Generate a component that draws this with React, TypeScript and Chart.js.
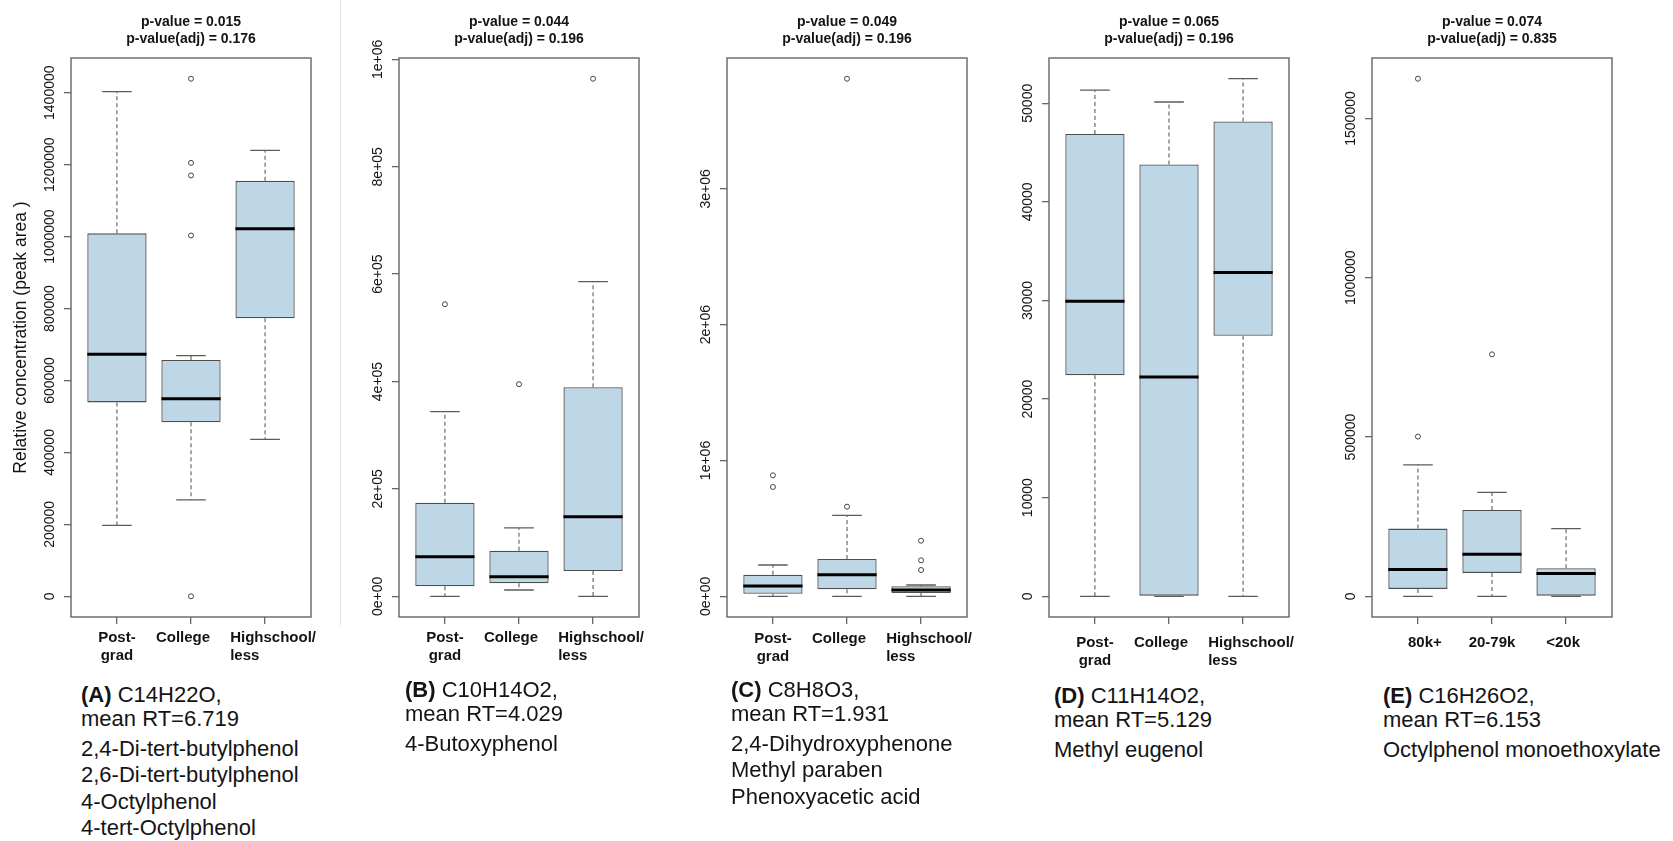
import React, { useEffect, useRef } from "react";
import { Chart, registerables } from "chart.js";

Chart.register(...registerables);

const FONT = '"Liberation Sans", Arial, Helvetica, sans-serif';
Chart.defaults.font.family = FONT;

// ---------------- DATA ----------------
const eduCategories = [["Post-", "grad"], ["College"], ["Highschool/", "less"]];
const incomeCategories = [["80k+"], ["20-79k"], ["<20k"]];

const pValues = ["0.015", "0.044", "0.049", "0.065", "0.074"];
const pAdjValues = ["0.176", "0.196", "0.196", "0.196", "0.835"];

// Panel A: C14H22O
const aLow = [197000, 268000, 436000];
const aQ1 = [539000, 484000, 773000];
const aMedian = [673000, 549000, 1022000];
const aQ3 = [1009000, 657000, 1155000];
const aHigh = [1403000, 669000, 1240000];
const aOutliers = [[], [1439000, 1205000, 1170000, 1003000, 0], []];
const aTicks = [0, 200000, 400000, 600000, 800000, 1000000, 1200000, 1400000];
const aTickLabels = ["0", "200000", "400000", "600000", "800000", "1000000", "1200000", "1400000"];

// Panel B: C10H14O2
const bLow = [0, 11700, 0];
const bQ1 = [18600, 24200, 47100];
const bMedian = [73800, 36500, 148300];
const bQ3 = [174400, 85000, 389400];
const bHigh = [344000, 127300, 586200];
const bOutliers = [[544000], [395000], [964000]];
const bTicks = [0, 200000, 400000, 600000, 800000, 1000000];
const bTickLabels = ["0e+00", "2e+05", "4e+05", "6e+05", "8e+05", "1e+06"];

// Panel C: C8H8O3
const cLow = [0, 0, 0];
const cQ1 = [19100, 51500, 24300];
const cMedian = [75900, 159000, 46400];
const cQ3 = [159000, 274700, 73600];
const cHigh = [230500, 596500, 83200];
const cOutliers = [[891000, 805000], [3811500, 660000], [409500, 265100, 193700]];
const cTicks = [0, 1000000, 2000000, 3000000];
const cTickLabels = ["0e+00", "1e+06", "2e+06", "3e+06"];

// Panel D: C11H14O2
const dLow = [0, 0, 0];
const dQ1 = [22420, 0, 26410];
const dMedian = [29930, 22250, 32840];
const dQ3 = [46880, 43800, 48160];
const dHigh = [51340, 50130, 52490];
const dOutliers = [[], [], []];
const dTicks = [0, 10000, 20000, 30000, 40000, 50000];
const dTickLabels = ["0", "10000", "20000", "30000", "40000", "50000"];

// Panel E: C16H26O2
const eLow = [0, 0, 0];
const eQ1 = [23200, 73400, 0];
const eMedian = [83800, 131800, 71200];
const eQ3 = [212500, 271200, 87900];
const eHigh = [412400, 326400, 212500];
const eOutliers = [[1624900, 501300], [759600], []];
const eTicks = [0, 500000, 1000000, 1500000];
const eTickLabels = ["0", "500000", "1000000", "1500000"];

const yAxisTitle = "Relative concentration (peak area )";

const captionLetters = ["(A)", "(B)", "(C)", "(D)", "(E)"];
const captionFormulas = ["C14H22O,", "C10H14O2,", "C8H8O3,", "C11H14O2,", "C16H26O2,"];
const captionRT = ["mean RT=6.719", "mean RT=4.029", "mean RT=1.931", "mean RT=5.129", "mean RT=6.153"];
const captionNames = [
  ["2,4-Di-tert-butylphenol", "2,6-Di-tert-butylphenol", "4-Octylphenol", "4-tert-Octylphenol"],
  ["4-Butoxyphenol"],
  ["2,4-Dihydroxyphenone", "Methyl paraben", "Phenoxyacetic acid"],
  ["Methyl eugenol"],
  ["Octylphenol monoethoxylate"],
];

// ---------------- LAYOUT / STYLE ----------------
const CANVAS_H = 680;
const PLOT_TOP = 58;
const PLOT_BOTTOM = 617;
const PLOT_W = 240;
const RIGHT_PAD = 14;
const PLOT_LEFT = [71, 399, 727, 1049, 1372];
const AXIS_W = [71, 40, 40, 40, 40];
const X_LABEL_DY = [21, 21, 22, 26, 26];
const EDU_SHIFT = [0, -8, 8];
const INC_SHIFT = [7, 0, -3];
const EDU_ALIGN = ["center", "center", "left"];
const INC_ALIGN = ["center", "center", "center"];
const CAP_LEFT = [81, 405, 731, 1054, 1383];
const CAP_TOP = [683, 678, 678, 684, 684];

const BOX_FILL = "#BED7E6";
const BOX_BORDER = "#4f4f4f";
const LINE_GRAY = "#5c5c5c";
const FRAME = "#666666";
const TEXT = "#141414";

type PanelData = {
  categories: string[][];
  low: number[];
  q1: number[];
  med: number[];
  q3: number[];
  high: number[];
  outliers: number[][];
  ticks: number[];
  tickLabels: string[];
  shift: number[];
  align: string[];
};

const panels: PanelData[] = [
  { categories: eduCategories, low: aLow, q1: aQ1, med: aMedian, q3: aQ3, high: aHigh, outliers: aOutliers, ticks: aTicks, tickLabels: aTickLabels, shift: EDU_SHIFT, align: EDU_ALIGN },
  { categories: eduCategories, low: bLow, q1: bQ1, med: bMedian, q3: bQ3, high: bHigh, outliers: bOutliers, ticks: bTicks, tickLabels: bTickLabels, shift: EDU_SHIFT, align: EDU_ALIGN },
  { categories: eduCategories, low: cLow, q1: cQ1, med: cMedian, q3: cQ3, high: cHigh, outliers: cOutliers, ticks: cTicks, tickLabels: cTickLabels, shift: EDU_SHIFT, align: EDU_ALIGN },
  { categories: eduCategories, low: dLow, q1: dQ1, med: dMedian, q3: dQ3, high: dHigh, outliers: dOutliers, ticks: dTicks, tickLabels: dTickLabels, shift: EDU_SHIFT, align: EDU_ALIGN },
  { categories: incomeCategories, low: eLow, q1: eQ1, med: eMedian, q3: eQ3, high: eHigh, outliers: eOutliers, ticks: eTicks, tickLabels: eTickLabels, shift: INC_SHIFT, align: INC_ALIGN },
];

function makeAxesPlugin(p: PanelData, li: number) {
  return {
    id: "rAxes" + li,
    afterDraw(chart: any) {
      const { ctx, chartArea: ca, scales } = chart;
      ctx.save();
      ctx.strokeStyle = FRAME;
      ctx.lineWidth = 1.4;
      ctx.strokeRect(ca.left, ca.top, ca.right - ca.left, ca.bottom - ca.top);

      ctx.fillStyle = TEXT;
      ctx.font = `14px ${FONT}`;
      ctx.textAlign = "center";
      ctx.textBaseline = "middle";
      scales.y.ticks.forEach((t: any, i: number) => {
        const py = scales.y.getPixelForValue(t.value);
        ctx.save();
        ctx.translate(ca.left - 21, py);
        ctx.rotate(-Math.PI / 2);
        ctx.fillText(p.tickLabels[i], 0, 0);
        ctx.restore();
      });

      ctx.font = `bold 15px ${FONT}`;
      ctx.textAlign = "left";
      scales.x.ticks.forEach((t: any, i: number) => {
        const lines = p.categories[i];
        const cx = scales.x.getPixelForValue(t.value) + p.shift[i];
        const widths = lines.map((l) => ctx.measureText(l).width);
        const maxW = Math.max(...widths);
        lines.forEach((l, j) => {
          const lx = p.align[i] === "center" ? cx - widths[j] / 2 : cx - maxW / 2;
          ctx.fillText(l, lx, ca.bottom + X_LABEL_DY[li] + j * 18.3);
        });
      });
      ctx.restore();
    },
  };
}

function buildConfig(p: PanelData, li: number): any {
  const all = [...p.low, ...p.high, ...p.q1, ...p.q3, ...p.outliers.flat()];
  const lo = Math.min(...all);
  const hi = Math.max(...all);
  const pad = (hi - lo) * 0.04;
  const gap = () => ({ x: NaN, y: NaN });

  const boxes: any[] = [];
  const whiskers: any[] = [];
  const caps: any[] = [];
  const medians: any[] = [];
  const outs: any[] = [];
  p.med.forEach((m, i) => {
    const x = i + 1;
    boxes.push({ x, y: [p.q1[i], p.q3[i]] });
    whiskers.push({ x, y: p.q3[i] }, { x, y: p.high[i] }, gap(), { x, y: p.q1[i] }, { x, y: p.low[i] }, gap());
    caps.push(
      { x: x - 0.2, y: p.high[i] }, { x: x + 0.2, y: p.high[i] }, gap(),
      { x: x - 0.2, y: p.low[i] }, { x: x + 0.2, y: p.low[i] }, gap()
    );
    medians.push({ x: x - 0.4, y: m }, { x: x + 0.4, y: m }, gap());
    p.outliers[i].forEach((v) => outs.push({ x, y: v }));
  });

  const gridOpts = {
    display: true,
    drawOnChartArea: false,
    drawTicks: true,
    tickLength: 7,
    color: FRAME,
    lineWidth: 1.3,
    offset: false,
  };

  return {
    type: "bar",
    data: {
      datasets: [
        {
          type: "bar",
          data: boxes,
          backgroundColor: BOX_FILL,
          borderColor: BOX_BORDER,
          borderWidth: 1.3,
          borderSkipped: false,
          categoryPercentage: 1,
          barPercentage: 0.8,
          order: 5,
        },
        {
          type: "line",
          data: whiskers,
          borderColor: LINE_GRAY,
          borderWidth: 1.1,
          borderDash: [4, 3],
          pointRadius: 0,
          fill: false,
          spanGaps: false,
          order: 4,
        },
        {
          type: "line",
          data: caps,
          borderColor: LINE_GRAY,
          borderWidth: 1.3,
          pointRadius: 0,
          fill: false,
          spanGaps: false,
          order: 3,
        },
        {
          type: "line",
          data: medians,
          borderColor: "#000000",
          borderWidth: 3,
          pointRadius: 0,
          fill: false,
          spanGaps: false,
          order: 2,
        },
        {
          type: "scatter",
          data: outs,
          pointRadius: 2.5,
          pointBorderWidth: 1,
          borderColor: "#444444",
          backgroundColor: "rgba(255,255,255,0)",
          showLine: false,
          order: 1,
        },
      ],
    },
    options: {
      responsive: false,
      animation: false,
      events: [],
      layout: { padding: { left: 0, right: RIGHT_PAD, top: 0, bottom: 0 } },
      plugins: {
        legend: { display: false },
        tooltip: { enabled: false },
        title: {
          display: true,
          fullSize: false,
          text: ["p-value = " + pValues[li], "p-value(adj) = " + pAdjValues[li]],
          font: { size: 14, weight: "bold", family: FONT, lineHeight: 1.25 },
          color: TEXT,
          padding: { top: 13, bottom: PLOT_TOP - 13 - 35 },
        },
      },
      scales: {
        x: {
          type: "linear",
          min: 0.38,
          max: 3.62,
          offset: false,
          grid: gridOpts,
          border: { display: false },
          ticks: { display: false, autoSkip: false },
          afterBuildTicks: (s: any) => {
            s.ticks = p.categories.map((_, i) => ({ value: i + 1 }));
          },
          afterFit: (s: any) => {
            s.height = CANVAS_H - PLOT_BOTTOM;
          },
        },
        y: {
          type: "linear",
          min: lo - pad,
          max: hi + pad,
          grid: gridOpts,
          border: { display: false },
          ticks: { display: false, autoSkip: false },
          afterBuildTicks: (s: any) => {
            s.ticks = p.ticks.map((v) => ({ value: v }));
          },
          afterFit: (s: any) => {
            s.width = AXIS_W[li];
          },
          title:
            li === 0
              ? {
                  display: true,
                  text: yAxisTitle,
                  font: { size: 17.5, family: FONT },
                  color: TEXT,
                  padding: { top: 11, bottom: 0 },
                }
              : { display: false },
        },
      },
    },
    plugins: [makeAxesPlugin(p, li)],
  };
}

function Panel({ p, li }: { p: PanelData; li: number }) {
  const ref = useRef<HTMLCanvasElement | null>(null);
  useEffect(() => {
    if (!ref.current) return;
    const chart = new Chart(ref.current, buildConfig(p, li));
    return () => chart.destroy();
  }, [p, li]);
  const w = AXIS_W[li] + PLOT_W + RIGHT_PAD;
  return (
    <canvas
      ref={ref}
      width={w}
      height={CANVAS_H}
      style={{ position: "absolute", left: PLOT_LEFT[li] - AXIS_W[li], top: 0, width: w, height: CANVAS_H, display: "block" }}
    />
  );
}

function Caption({ li }: { li: number }) {
  return (
    <div
      style={{
        position: "absolute",
        left: CAP_LEFT[li],
        top: CAP_TOP[li],
        fontFamily: FONT,
        fontSize: 22,
        color: TEXT,
        whiteSpace: "nowrap",
      }}
    >
      <div style={{ lineHeight: "24px" }}>
        <div>
          <b>{captionLetters[li]}</b> {captionFormulas[li]}
        </div>
        <div>{captionRT[li]}</div>
      </div>
      <div style={{ lineHeight: "26.6px", marginTop: 4.7 }}>
        {captionNames[li].map((n, k) => (
          <div key={k}>{n}</div>
        ))}
      </div>
    </div>
  );
}

export default function App() {
  useEffect(() => {
    document.body.style.margin = "0";
    document.body.style.overflow = "hidden";
  }, []);
  return (
    <div
      style={{
        position: "absolute",
        left: 0,
        top: 0,
        width: 1673,
        height: 841,
        background: "#ffffff",
        overflow: "hidden",
      }}
    >
      <div
        style={{
          position: "absolute",
          left: 340,
          top: 0,
          width: 1,
          height: 625,
          background: "#e2e2e2",
        }}
      />
      {panels.map((p, li) => (
        <Panel key={li} p={p} li={li} />
      ))}
      {panels.map((_, li) => (
        <Caption key={"c" + li} li={li} />
      ))}
    </div>
  );
}
